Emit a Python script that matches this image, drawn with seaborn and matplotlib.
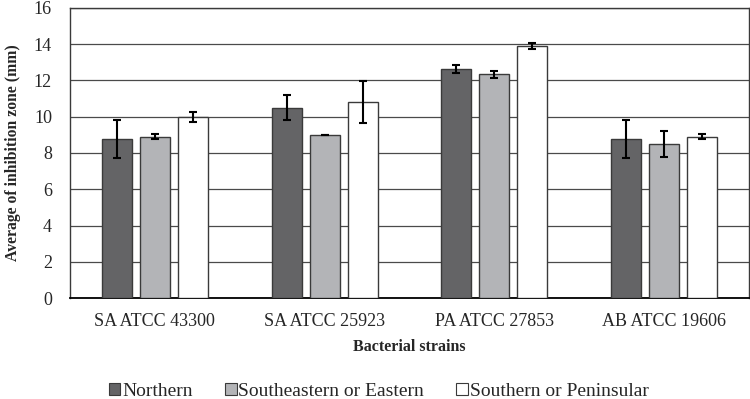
import matplotlib
matplotlib.use("Agg")
import matplotlib.pyplot as plt
from matplotlib.patches import Patch
import numpy as np
import pandas as pd
import seaborn as sns

strains = ["SA ATCC 43300", "SA ATCC 25923", "PA ATCC 27853", "AB ATCC 19606"]
regions = ["Northern", "Southeastern or Eastern", "Southern or Peninsular"]

northern = [8.75, 10.5, 12.65, 8.75]
southeastern = [8.9, 9.0, 12.35, 8.5]
southern = [10.0, 10.8, 13.9, 8.9]

northern_err = [1.05, 0.7, 0.22, 1.05]
southeastern_err = [0.15, 0.0, 0.2, 0.7]
southern_err = [0.28, 1.15, 0.15, 0.15]

colors = ["#646466", "#b3b4b7", "#ffffff"]

sns.set_theme(style="white")
plt.rcParams["font.family"] = ["Liberation Serif", "DejaVu Serif"]

means = [northern, southeastern, southern]
errs = [northern_err, southeastern_err, southern_err]
df = pd.DataFrame(
    {
        "strain": np.tile(strains, len(regions)),
        "region": np.repeat(regions, len(strains)),
        "zone": np.concatenate(means),
    }
)

fig = plt.figure(figsize=(7.5, 3.99), dpi=100)
ax = fig.add_axes([0.0933, 0.2531, 0.9054, 0.7269])

sns.barplot(
    data=df, x="strain", y="zone", hue="region", order=strains, hue_order=regions,
    palette=colors, width=0.67, gap=0.21, errorbar=None, legend=False,
    edgecolor="#3a3a3a", linewidth=1.0, saturation=1, ax=ax, zorder=3,
)

for container, err in zip(ax.containers, errs):
    xs = [b.get_x() + b.get_width() / 2 for b in container]
    ys = [b.get_height() for b in container]
    ax.errorbar(xs, ys, yerr=err, fmt="none", ecolor="black", elinewidth=1.5,
                capsize=3, capthick=1.5, zorder=4)

ax.set_xlim(-0.5, 3.5)
ax.set_ylim(0, 16)
ax.set_yticks(range(0, 17, 2))
ax.yaxis.grid(True, color="#4a4a4a", linewidth=0.9, zorder=0)
ax.set_axisbelow(True)
for s in ax.spines.values():
    s.set_color("#3a3a3a")
    s.set_linewidth(1.0)
ax.spines["bottom"].set_color("black")
ax.spines["bottom"].set_linewidth(1.3)

ax.tick_params(axis="x", labelsize=13, pad=11, length=0)
ax.tick_params(axis="y", labelsize=13, pad=13, length=0)
ax.set_xlabel("Bacterial strains", fontsize=11.5, fontweight="bold", labelpad=6)
ax.set_ylabel("Average of inhibition zone (mm)", fontsize=11.3, fontweight="bold", labelpad=9)

handles = [Patch(facecolor=c, edgecolor="#3a3a3a", linewidth=0.8) for c in colors]
fig.legend(handles, regions, loc="lower center", bbox_to_anchor=(0.505, -0.046), ncol=3,
           frameon=False, fontsize=14, handlelength=0.6, handleheight=0.6,
           handletextpad=0.1, columnspacing=1.65)

fig.savefig("out.png", dpi=100)
